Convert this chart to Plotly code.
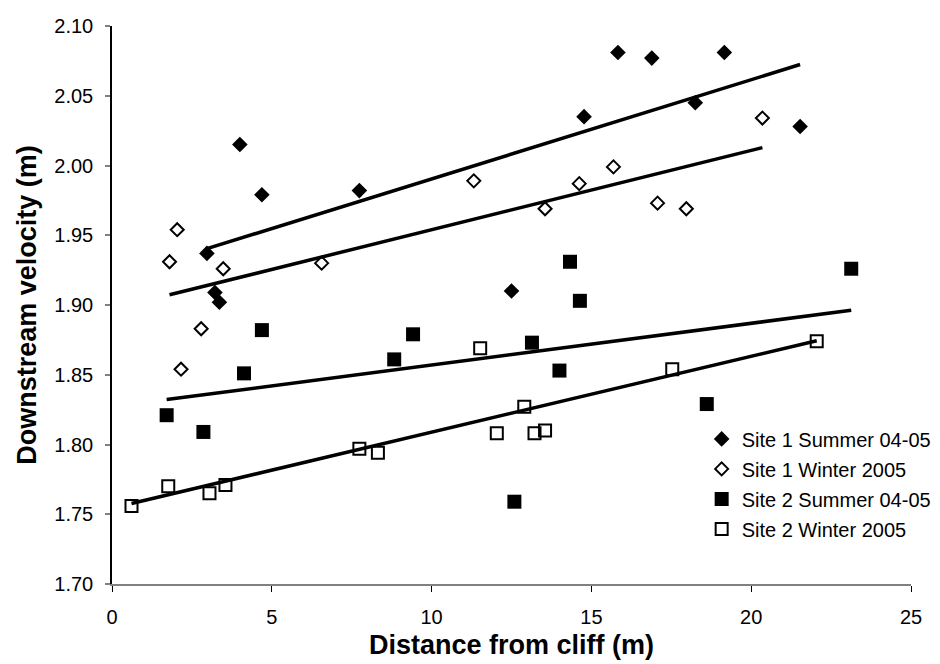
import numpy as np
import plotly.graph_objects as go

# ---- data ----
s1_summer_x = [2.97, 3.22, 3.36, 4.00, 4.69, 7.74, 12.50, 14.77, 15.83, 16.89, 18.25, 19.16, 21.53]
s1_summer_y = [1.937, 1.909, 1.902, 2.015, 1.979, 1.982, 1.910, 2.035, 2.081, 2.077, 2.045, 2.081, 2.028]

s1_winter_x = [1.80, 2.04, 2.16, 2.79, 3.48, 6.56, 11.32, 13.55, 14.62, 15.69, 17.07, 17.97, 20.35]
s1_winter_y = [1.931, 1.954, 1.854, 1.883, 1.926, 1.930, 1.989, 1.969, 1.987, 1.999, 1.973, 1.969, 2.034]

s2_summer_x = [1.71, 2.86, 4.13, 4.69, 8.83, 9.42, 12.59, 13.14, 14.00, 14.33, 14.64, 18.61, 23.13]
s2_summer_y = [1.821, 1.809, 1.851, 1.882, 1.861, 1.879, 1.759, 1.873, 1.853, 1.931, 1.903, 1.829, 1.926]

s2_winter_x = [0.61, 1.76, 3.05, 3.55, 7.74, 8.32, 11.52, 12.04, 12.90, 13.22, 13.55, 17.53, 22.05]
s2_winter_y = [1.756, 1.770, 1.765, 1.771, 1.797, 1.794, 1.869, 1.808, 1.827, 1.808, 1.810, 1.854, 1.874]

series_names = ["Site 1 Summer 04-05", "Site 1 Winter 2005", "Site 2 Summer 04-05", "Site 2 Winter 2005"]
x_ticks = [0, 5, 10, 15, 20, 25]
y_ticks = [1.70, 1.75, 1.80, 1.85, 1.90, 1.95, 2.00, 2.05, 2.10]

FONT = "Liberation Sans, Arial, sans-serif"

series = [
    (s1_summer_x, s1_summer_y, dict(symbol="diamond", size=12, color="black", line=dict(width=0))),
    (s1_winter_x, s1_winter_y, dict(symbol="diamond-open", size=10, color="black", line=dict(width=2, color="black"))),
    (s2_summer_x, s2_summer_y, dict(symbol="square", size=14, color="black", line=dict(width=0))),
    (s2_winter_x, s2_winter_y, dict(symbol="square-open", size=12, color="black", line=dict(width=2, color="black"))),
]

fig = go.Figure()

# trendlines (linear least squares fit over each series' x-range)
for xs, ys, _ in series:
    xa = np.array(xs)
    ya = np.array(ys)
    slope, icpt = np.polyfit(xa, ya, 1)
    xl = np.array([xa.min(), xa.max()])
    fig.add_trace(go.Scatter(x=xl, y=slope * xl + icpt, mode="lines",
                             line=dict(color="black", width=3.5),
                             showlegend=False, hoverinfo="skip"))

for i, (name, (xs, ys, mk)) in enumerate(zip(series_names, series)):
    fig.add_trace(go.Scatter(x=xs, y=ys, mode="markers", name=name,
                             marker=mk, legendgroup=f"g{i}"))

fig.update_layout(
    width=940, height=664,
    margin=dict(l=104, r=29, t=18, b=88),
    paper_bgcolor="white", plot_bgcolor="white",
    font=dict(family=FONT, size=20, color="black"),
    showlegend=True,
    legend=dict(x=0.738, y=0.295, xanchor="left", yanchor="top",
                bgcolor="rgba(0,0,0,0)", font=dict(size=20, family=FONT),
                tracegroupgap=1, itemsizing="trace"),
    xaxis=dict(range=[0, 25], tickvals=x_ticks, ticktext=[str(v) for v in x_ticks],
               showgrid=False, zeroline=False, showline=True, linecolor="#808080", linewidth=1.5,
               ticks="outside", ticklen=6, tickcolor="black", tickwidth=1,
               tickfont=dict(size=20), ticklabelstandoff=8, automargin=False,
               title=dict(text="<b>Distance from cliff (m)</b>", font=dict(size=27), standoff=8)),
    yaxis=dict(range=[1.70, 2.10], tickvals=y_ticks, ticktext=[f"{v:.2f}" for v in y_ticks],
               showgrid=False, zeroline=False, showline=True, linecolor="black", linewidth=1.5,
               ticks="outside", ticklen=5, tickcolor="#808080", tickwidth=1.5,
               tickfont=dict(size=20), ticklabelstandoff=8, automargin=False,
               title=dict(text="<b>Downstream velocity (m)</b>", font=dict(size=27), standoff=10)),
)

fig.write_html("out.html")
